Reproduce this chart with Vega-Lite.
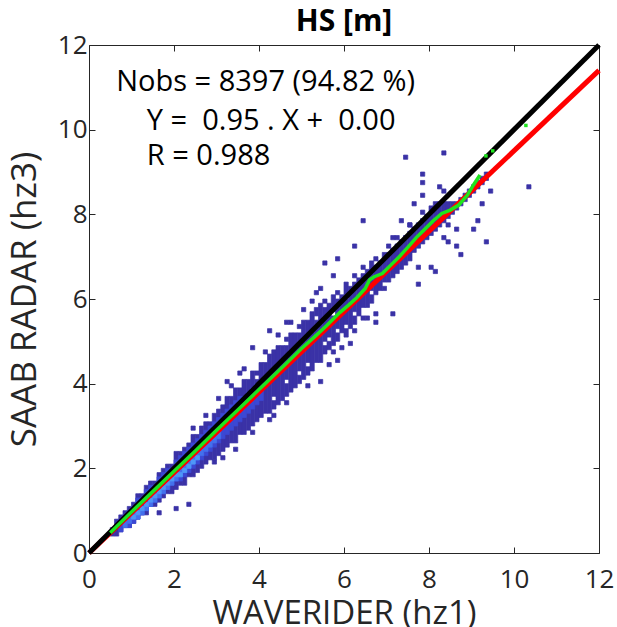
{
  "$schema": "https://vega.github.io/schema/vega-lite/v6.json",
  "width": 510,
  "height": 508,
  "autosize": "none",
  "padding": {"left": 89, "top": 45, "right": 18, "bottom": 74},
  "background": "white",
  "config": {
    "view": {"stroke": "#262626", "strokeWidth": 1},
    "font": "Open Sans",
    "axis": {
      "grid": false, "domain": false, "ticks": true, "labelFlush": false, "labelOverlap": false,
      "tickColor": "#262626", "tickSize": -6, "tickWidth": 1,
      "labelFont": "Open Sans", "labelFontSize": 26, "labelColor": "#262626",
      "titleFont": "Open Sans", "titleFontWeight": "normal", "titleColor": "#262626"
    }
  },
  "title": {"text": "HS [m]", "font": "Open Sans", "fontSize": 30, "fontWeight": "bold", "color": "#000000", "offset": -5},
  "datasets": {
    "cells": [
      {"x":0.5,"x1":0.6,"y0":0.4,"y1":0.6,"n":1},
      {"x":0.6,"x1":0.7,"y0":0.4,"y1":0.8,"n":1},
      {"x":0.7,"x1":0.8,"y0":0.5,"y1":0.9,"n":1},
      {"x":0.8,"x1":0.9,"y0":0.6,"y1":1.0,"n":1},
      {"x":0.9,"x1":1.0,"y0":0.6,"y1":1.1,"n":1},
      {"x":1.0,"x1":1.1,"y0":0.7,"y1":1.2,"n":1},
      {"x":1.1,"x1":1.2,"y0":0.8,"y1":1.4,"n":1},
      {"x":1.2,"x1":1.3,"y0":0.9,"y1":1.4,"n":1},
      {"x":1.3,"x1":1.4,"y0":0.9,"y1":1.6,"n":1},
      {"x":1.4,"x1":1.5,"y0":1.1,"y1":1.7,"n":1},
      {"x":1.5,"x1":1.6,"y0":1.1,"y1":1.7,"n":1},
      {"x":1.6,"x1":1.7,"y0":1.2,"y1":1.9,"n":1},
      {"x":1.7,"x1":1.8,"y0":1.3,"y1":2.0,"n":1},
      {"x":1.8,"x1":1.9,"y0":1.4,"y1":2.1,"n":1},
      {"x":1.9,"x1":2.0,"y0":1.4,"y1":2.1,"n":1},
      {"x":2.0,"x1":2.1,"y0":1.5,"y1":2.4,"n":1},
      {"x":2.1,"x1":2.2,"y0":1.6,"y1":2.4,"n":1},
      {"x":2.2,"x1":2.3,"y0":1.6,"y1":2.5,"n":1},
      {"x":2.3,"x1":2.4,"y0":1.8,"y1":2.6,"n":1},
      {"x":2.4,"x1":2.5,"y0":1.8,"y1":2.8,"n":1},
      {"x":2.5,"x1":2.6,"y0":1.9,"y1":2.8,"n":1},
      {"x":2.6,"x1":2.7,"y0":2.0,"y1":3.0,"n":1},
      {"x":2.7,"x1":2.8,"y0":2.1,"y1":3.1,"n":1},
      {"x":2.8,"x1":2.9,"y0":2.2,"y1":3.1,"n":1},
      {"x":2.9,"x1":3.0,"y0":2.2,"y1":3.3,"n":1},
      {"x":3.0,"x1":3.1,"y0":2.3,"y1":3.4,"n":1},
      {"x":3.1,"x1":3.2,"y0":2.4,"y1":3.5,"n":1},
      {"x":3.2,"x1":3.3,"y0":2.5,"y1":3.7,"n":1},
      {"x":3.3,"x1":3.4,"y0":2.6,"y1":3.7,"n":1},
      {"x":3.4,"x1":3.5,"y0":2.6,"y1":3.9,"n":1},
      {"x":3.5,"x1":3.6,"y0":2.8,"y1":3.9,"n":1},
      {"x":3.6,"x1":3.7,"y0":2.8,"y1":4.1,"n":1},
      {"x":3.7,"x1":3.8,"y0":2.9,"y1":4.1,"n":1},
      {"x":3.8,"x1":3.9,"y0":3.0,"y1":4.3,"n":1},
      {"x":3.9,"x1":4.0,"y0":3.1,"y1":4.1,"n":1},
      {"x":3.9,"x1":4.0,"y0":4.2,"y1":4.3,"n":1},
      {"x":4.0,"x1":4.1,"y0":3.2,"y1":4.5,"n":1},
      {"x":4.1,"x1":4.2,"y0":3.3,"y1":4.5,"n":1},
      {"x":4.2,"x1":4.3,"y0":3.3,"y1":4.7,"n":1},
      {"x":4.3,"x1":4.4,"y0":3.4,"y1":3.6,"n":1},
      {"x":4.3,"x1":4.4,"y0":3.7,"y1":4.8,"n":1},
      {"x":4.4,"x1":4.5,"y0":3.5,"y1":4.9,"n":1},
      {"x":4.5,"x1":4.6,"y0":3.6,"y1":4.9,"n":1},
      {"x":4.6,"x1":4.7,"y0":3.7,"y1":4.0,"n":1},
      {"x":4.6,"x1":4.7,"y0":4.1,"y1":4.9,"n":1},
      {"x":4.6,"x1":4.7,"y0":5.0,"y1":5.1,"n":1},
      {"x":4.7,"x1":4.8,"y0":3.8,"y1":5.2,"n":1},
      {"x":4.8,"x1":4.9,"y0":3.9,"y1":5.2,"n":1},
      {"x":4.9,"x1":5.0,"y0":4.0,"y1":4.2,"n":1},
      {"x":4.9,"x1":5.0,"y0":4.3,"y1":5.2,"n":1},
      {"x":4.9,"x1":5.0,"y0":5.3,"y1":5.4,"n":1},
      {"x":5.0,"x1":5.1,"y0":4.1,"y1":5.5,"n":1},
      {"x":5.1,"x1":5.2,"y0":4.2,"y1":4.4,"n":1},
      {"x":5.1,"x1":5.2,"y0":4.5,"y1":5.5,"n":1},
      {"x":5.2,"x1":5.3,"y0":4.3,"y1":5.7,"n":1},
      {"x":5.3,"x1":5.4,"y0":4.5,"y1":5.5,"n":1},
      {"x":5.3,"x1":5.4,"y0":5.6,"y1":5.8,"n":1},
      {"x":5.4,"x1":5.5,"y0":4.5,"y1":5.9,"n":1},
      {"x":5.5,"x1":5.6,"y0":4.7,"y1":4.9,"n":1},
      {"x":5.5,"x1":5.6,"y0":5.0,"y1":5.8,"n":1},
      {"x":5.5,"x1":5.6,"y0":5.9,"y1":6.0,"n":1},
      {"x":5.6,"x1":5.7,"y0":4.8,"y1":5.0,"n":1},
      {"x":5.6,"x1":5.7,"y0":5.1,"y1":5.9,"n":1},
      {"x":5.7,"x1":5.8,"y0":4.9,"y1":5.6,"n":1},
      {"x":5.7,"x1":5.8,"y0":5.7,"y1":6.1,"n":1},
      {"x":5.8,"x1":5.9,"y0":5.0,"y1":5.2,"n":1},
      {"x":5.8,"x1":5.9,"y0":5.3,"y1":6.0,"n":1},
      {"x":5.8,"x1":5.9,"y0":6.1,"y1":6.2,"n":1},
      {"x":5.9,"x1":6.0,"y0":5.2,"y1":6.1,"n":1},
      {"x":6.0,"x1":6.1,"y0":5.1,"y1":5.3,"n":1},
      {"x":6.0,"x1":6.1,"y0":5.4,"y1":6.0,"n":1},
      {"x":6.0,"x1":6.1,"y0":6.1,"y1":6.4,"n":1},
      {"x":6.1,"x1":6.2,"y0":5.3,"y1":6.3,"n":1},
      {"x":6.2,"x1":6.3,"y0":5.4,"y1":5.6,"n":1},
      {"x":6.2,"x1":6.3,"y0":5.7,"y1":6.4,"n":1},
      {"x":6.2,"x1":6.3,"y0":6.5,"y1":6.6,"n":1},
      {"x":6.3,"x1":6.4,"y0":5.6,"y1":6.5,"n":1},
      {"x":6.4,"x1":6.5,"y0":5.5,"y1":5.6,"n":1},
      {"x":6.4,"x1":6.5,"y0":5.8,"y1":6.6,"n":1},
      {"x":6.4,"x1":6.5,"y0":6.7,"y1":6.8,"n":1},
      {"x":6.5,"x1":6.6,"y0":5.8,"y1":6.7,"n":1},
      {"x":6.6,"x1":6.7,"y0":5.9,"y1":6.1,"n":1},
      {"x":6.6,"x1":6.7,"y0":6.2,"y1":6.9,"n":1},
      {"x":6.7,"x1":6.8,"y0":6.1,"y1":6.8,"n":1},
      {"x":6.7,"x1":6.8,"y0":6.9,"y1":7.0,"n":1},
      {"x":6.8,"x1":6.9,"y0":6.2,"y1":6.9,"n":1},
      {"x":6.9,"x1":7.0,"y0":6.2,"y1":6.3,"n":1},
      {"x":6.9,"x1":7.0,"y0":6.4,"y1":7.1,"n":1},
      {"x":7.0,"x1":7.1,"y0":6.4,"y1":7.1,"n":1},
      {"x":7.0,"x1":7.1,"y0":7.2,"y1":7.3,"n":1},
      {"x":7.1,"x1":7.2,"y0":6.5,"y1":7.2,"n":1},
      {"x":7.2,"x1":7.3,"y0":6.6,"y1":7.3,"n":1},
      {"x":7.2,"x1":7.3,"y0":7.4,"y1":7.5,"n":1},
      {"x":7.3,"x1":7.4,"y0":6.7,"y1":7.4,"n":1},
      {"x":7.4,"x1":7.5,"y0":6.8,"y1":7.5,"n":1},
      {"x":7.5,"x1":7.6,"y0":6.9,"y1":7.6,"n":1},
      {"x":7.5,"x1":7.6,"y0":7.7,"y1":7.8,"n":1},
      {"x":7.6,"x1":7.7,"y0":7.1,"y1":7.7,"n":1},
      {"x":7.7,"x1":7.8,"y0":7.2,"y1":7.8,"n":1},
      {"x":7.8,"x1":7.9,"y0":7.3,"y1":7.9,"n":1},
      {"x":7.8,"x1":7.9,"y0":8.0,"y1":8.1,"n":1},
      {"x":7.9,"x1":8.0,"y0":7.4,"y1":8.0,"n":1},
      {"x":8.0,"x1":8.1,"y0":7.5,"y1":8.2,"n":1},
      {"x":8.1,"x1":8.2,"y0":7.6,"y1":8.3,"n":1},
      {"x":8.2,"x1":8.3,"y0":7.7,"y1":8.3,"n":1},
      {"x":8.3,"x1":8.4,"y0":7.8,"y1":8.3,"n":1},
      {"x":8.4,"x1":8.5,"y0":7.9,"y1":8.3,"n":1},
      {"x":8.5,"x1":8.6,"y0":8.0,"y1":8.3,"n":1},
      {"x":8.6,"x1":8.7,"y0":8.1,"y1":8.3,"n":1},
      {"x":8.7,"x1":8.8,"y0":8.2,"y1":8.4,"n":1},
      {"x":8.8,"x1":8.9,"y0":8.3,"y1":8.5,"n":1},
      {"x":8.9,"x1":9.0,"y0":8.4,"y1":8.6,"n":1},
      {"x":9.0,"x1":9.1,"y0":8.5,"y1":8.7,"n":1},
      {"x":9.1,"x1":9.2,"y0":8.6,"y1":8.8,"n":1},
      {"x":9.2,"x1":9.3,"y0":8.7,"y1":8.9,"n":1},
      {"x":9.3,"x1":9.4,"y0":8.8,"y1":9.0,"n":1},
      {"x":1.6,"x1":1.7,"y0":0.9,"y1":1.0,"n":1},
      {"x":2.0,"x1":2.1,"y0":1.0,"y1":1.1,"n":1},
      {"x":2.3,"x1":2.4,"y0":1.1,"y1":1.2,"n":1},
      {"x":2.9,"x1":3.0,"y0":2.1,"y1":2.2,"n":1},
      {"x":2.4,"x1":2.5,"y0":2.9,"y1":3.0,"n":1},
      {"x":2.7,"x1":2.8,"y0":3.2,"y1":3.3,"n":1},
      {"x":3.0,"x1":3.1,"y0":3.6,"y1":3.7,"n":1},
      {"x":3.3,"x1":3.4,"y0":3.9,"y1":4.0,"n":1},
      {"x":3.6,"x1":3.7,"y0":4.3,"y1":4.4,"n":1},
      {"x":4.1,"x1":4.2,"y0":4.7,"y1":4.8,"n":1},
      {"x":4.4,"x1":4.5,"y0":5.1,"y1":5.2,"n":1},
      {"x":4.7,"x1":4.8,"y0":5.4,"y1":5.5,"n":1},
      {"x":5.2,"x1":5.3,"y0":5.9,"y1":6.0,"n":1},
      {"x":5.3,"x1":5.4,"y0":6.1,"y1":6.2,"n":1},
      {"x":3.1,"x1":3.2,"y0":2.2,"y1":2.3,"n":1},
      {"x":3.4,"x1":3.5,"y0":2.4,"y1":2.5,"n":1},
      {"x":3.8,"x1":3.9,"y0":2.8,"y1":2.9,"n":1},
      {"x":4.3,"x1":4.4,"y0":3.2,"y1":3.3,"n":1},
      {"x":4.6,"x1":4.7,"y0":3.5,"y1":3.6,"n":1},
      {"x":5.1,"x1":5.2,"y0":3.9,"y1":4.0,"n":1},
      {"x":5.6,"x1":5.7,"y0":4.4,"y1":4.5,"n":1},
      {"x":6.1,"x1":6.2,"y0":4.9,"y1":5.0,"n":1},
      {"x":3.2,"x1":3.3,"y0":4.0,"y1":4.1,"n":1},
      {"x":3.5,"x1":3.6,"y0":4.2,"y1":4.3,"n":1},
      {"x":3.8,"x1":3.9,"y0":4.8,"y1":4.9,"n":1},
      {"x":4.2,"x1":4.3,"y0":5.2,"y1":5.3,"n":1},
      {"x":4.2,"x1":4.3,"y0":3.1,"y1":3.2,"n":1},
      {"x":4.6,"x1":4.7,"y0":5.4,"y1":5.5,"n":1},
      {"x":5.0,"x1":5.1,"y0":5.7,"y1":5.8,"n":1},
      {"x":5.4,"x1":5.5,"y0":6.2,"y1":6.3,"n":1},
      {"x":5.4,"x1":5.5,"y0":4.0,"y1":4.1,"n":1},
      {"x":5.5,"x1":5.6,"y0":6.8,"y1":6.9,"n":1},
      {"x":5.7,"x1":5.8,"y0":6.5,"y1":6.6,"n":1},
      {"x":5.8,"x1":5.9,"y0":6.9,"y1":7.0,"n":1},
      {"x":5.8,"x1":5.9,"y0":4.5,"y1":4.6,"n":1},
      {"x":5.9,"x1":6.0,"y0":4.8,"y1":4.9,"n":1},
      {"x":5.7,"x1":5.8,"y0":4.7,"y1":4.8,"n":1},
      {"x":6.2,"x1":6.3,"y0":5.2,"y1":5.3,"n":1},
      {"x":6.5,"x1":6.6,"y0":5.5,"y1":5.6,"n":1},
      {"x":6.7,"x1":6.8,"y0":5.4,"y1":5.5,"n":1},
      {"x":6.7,"x1":6.8,"y0":5.6,"y1":5.7,"n":1},
      {"x":7.1,"x1":7.2,"y0":5.6,"y1":5.7,"n":1},
      {"x":7.7,"x1":7.8,"y0":6.3,"y1":6.4,"n":1},
      {"x":7.7,"x1":7.8,"y0":6.7,"y1":6.8,"n":1},
      {"x":8.0,"x1":8.1,"y0":6.7,"y1":6.8,"n":1},
      {"x":8.1,"x1":8.2,"y0":6.6,"y1":6.7,"n":1},
      {"x":8.4,"x1":8.5,"y0":7.3,"y1":7.4,"n":1},
      {"x":8.6,"x1":8.7,"y0":7.2,"y1":7.3,"n":1},
      {"x":8.7,"x1":8.8,"y0":7.0,"y1":7.1,"n":1},
      {"x":8.3,"x1":8.4,"y0":7.4,"y1":7.5,"n":1},
      {"x":8.4,"x1":8.5,"y0":7.7,"y1":7.8,"n":1},
      {"x":8.6,"x1":8.7,"y0":7.6,"y1":7.7,"n":1},
      {"x":9.1,"x1":9.2,"y0":7.8,"y1":7.9,"n":1},
      {"x":9.0,"x1":9.1,"y0":7.6,"y1":7.7,"n":1},
      {"x":9.3,"x1":9.4,"y0":7.3,"y1":7.4,"n":1},
      {"x":9.2,"x1":9.3,"y0":8.2,"y1":8.3,"n":1},
      {"x":9.4,"x1":9.5,"y0":8.5,"y1":8.6,"n":1},
      {"x":10.3,"x1":10.4,"y0":8.6,"y1":8.7,"n":1},
      {"x":6.2,"x1":6.3,"y0":7.2,"y1":7.3,"n":1},
      {"x":6.4,"x1":6.5,"y0":7.8,"y1":7.9,"n":1},
      {"x":7.3,"x1":7.4,"y0":7.8,"y1":7.9,"n":1},
      {"x":7.5,"x1":7.6,"y0":7.7,"y1":7.8,"n":1},
      {"x":7.1,"x1":7.2,"y0":7.4,"y1":7.5,"n":1},
      {"x":7.8,"x1":7.9,"y0":8.4,"y1":8.5,"n":1},
      {"x":7.6,"x1":7.7,"y0":8.2,"y1":8.3,"n":1},
      {"x":7.8,"x1":7.9,"y0":8.9,"y1":9.0,"n":1},
      {"x":7.8,"x1":7.9,"y0":8.7,"y1":8.8,"n":1},
      {"x":8.2,"x1":8.3,"y0":8.6,"y1":8.7,"n":1},
      {"x":8.3,"x1":8.4,"y0":8.5,"y1":8.6,"n":1},
      {"x":7.4,"x1":7.5,"y0":9.3,"y1":9.4,"n":1},
      {"x":8.3,"x1":8.4,"y0":9.4,"y1":9.5,"n":1},
      {"x":0.7,"x1":0.8,"y0":0.5,"y1":0.8,"n":2},
      {"x":0.8,"x1":0.9,"y0":0.6,"y1":0.9,"n":2},
      {"x":0.9,"x1":1.0,"y0":0.6,"y1":1.0,"n":2},
      {"x":1.0,"x1":1.1,"y0":0.7,"y1":1.1,"n":2},
      {"x":1.1,"x1":1.2,"y0":0.8,"y1":1.3,"n":2},
      {"x":1.2,"x1":1.3,"y0":0.9,"y1":1.3,"n":2},
      {"x":1.3,"x1":1.4,"y0":1.0,"y1":1.5,"n":2},
      {"x":1.4,"x1":1.5,"y0":1.1,"y1":1.6,"n":2},
      {"x":1.5,"x1":1.6,"y0":1.2,"y1":1.6,"n":2},
      {"x":1.6,"x1":1.7,"y0":1.3,"y1":1.8,"n":2},
      {"x":1.7,"x1":1.8,"y0":1.4,"y1":1.9,"n":2},
      {"x":1.8,"x1":1.9,"y0":1.5,"y1":2.0,"n":2},
      {"x":1.9,"x1":2.0,"y0":1.6,"y1":2.0,"n":2},
      {"x":2.0,"x1":2.1,"y0":1.7,"y1":2.2,"n":2},
      {"x":2.1,"x1":2.2,"y0":1.7,"y1":2.3,"n":2},
      {"x":2.2,"x1":2.3,"y0":1.8,"y1":2.4,"n":2},
      {"x":2.3,"x1":2.4,"y0":1.9,"y1":2.5,"n":2},
      {"x":2.4,"x1":2.5,"y0":2.0,"y1":2.6,"n":2},
      {"x":2.5,"x1":2.6,"y0":2.1,"y1":2.7,"n":2},
      {"x":2.6,"x1":2.7,"y0":2.2,"y1":2.8,"n":2},
      {"x":2.7,"x1":2.8,"y0":2.3,"y1":2.9,"n":2},
      {"x":2.8,"x1":2.9,"y0":2.4,"y1":3.0,"n":2},
      {"x":2.9,"x1":3.0,"y0":2.5,"y1":3.1,"n":2},
      {"x":3.0,"x1":3.1,"y0":2.6,"y1":3.2,"n":2},
      {"x":3.1,"x1":3.2,"y0":2.7,"y1":3.3,"n":2},
      {"x":3.2,"x1":3.3,"y0":2.8,"y1":3.4,"n":2},
      {"x":3.3,"x1":3.4,"y0":2.9,"y1":3.5,"n":2},
      {"x":3.4,"x1":3.5,"y0":3.0,"y1":3.6,"n":2},
      {"x":3.5,"x1":3.6,"y0":3.1,"y1":3.7,"n":2},
      {"x":3.6,"x1":3.7,"y0":3.2,"y1":3.7,"n":2},
      {"x":3.7,"x1":3.8,"y0":3.3,"y1":3.8,"n":2},
      {"x":3.8,"x1":3.9,"y0":3.4,"y1":3.9,"n":2},
      {"x":3.9,"x1":4.0,"y0":3.5,"y1":4.0,"n":2},
      {"x":4.0,"x1":4.1,"y0":3.6,"y1":4.1,"n":2},
      {"x":0.8,"x1":0.9,"y0":0.6,"y1":0.8,"n":3},
      {"x":0.9,"x1":1.0,"y0":0.7,"y1":0.9,"n":3},
      {"x":1.0,"x1":1.1,"y0":0.8,"y1":1.0,"n":3},
      {"x":1.1,"x1":1.2,"y0":0.8,"y1":1.0,"n":3},
      {"x":1.2,"x1":1.3,"y0":0.9,"y1":1.1,"n":3},
      {"x":1.3,"x1":1.4,"y0":1.0,"y1":1.2,"n":3},
      {"x":1.4,"x1":1.5,"y0":1.1,"y1":1.3,"n":3},
      {"x":1.5,"x1":1.6,"y0":1.2,"y1":1.4,"n":3},
      {"x":1.6,"x1":1.7,"y0":1.3,"y1":1.5,"n":3},
      {"x":1.7,"x1":1.8,"y0":1.4,"y1":1.6,"n":3},
      {"x":1.8,"x1":1.9,"y0":1.5,"y1":1.7,"n":3},
      {"x":1.9,"x1":2.0,"y0":1.6,"y1":1.8,"n":3},
      {"x":2.0,"x1":2.1,"y0":1.7,"y1":1.9,"n":3},
      {"x":2.1,"x1":2.2,"y0":1.8,"y1":2.0,"n":3},
      {"x":2.2,"x1":2.3,"y0":1.9,"y1":2.1,"n":3},
      {"x":2.3,"x1":2.4,"y0":2.0,"y1":2.2,"n":3},
      {"x":2.4,"x1":2.5,"y0":2.1,"y1":2.3,"n":3},
      {"x":2.5,"x1":2.6,"y0":2.2,"y1":2.4,"n":3},
      {"x":2.6,"x1":2.7,"y0":2.3,"y1":2.5,"n":3},
      {"x":2.7,"x1":2.8,"y0":2.4,"y1":2.6,"n":3},
      {"x":2.8,"x1":2.9,"y0":2.5,"y1":2.7,"n":3},
      {"x":2.9,"x1":3.0,"y0":2.6,"y1":2.8,"n":3},
      {"x":3.0,"x1":3.1,"y0":2.7,"y1":2.9,"n":3},
      {"x":1.0,"x1":1.1,"y0":0.8,"y1":0.9,"n":4},
      {"x":1.1,"x1":1.2,"y0":0.9,"y1":1.0,"n":4},
      {"x":1.2,"x1":1.3,"y0":1.0,"y1":1.1,"n":4},
      {"x":1.3,"x1":1.4,"y0":1.1,"y1":1.2,"n":4},
      {"x":1.4,"x1":1.5,"y0":1.2,"y1":1.3,"n":4},
      {"x":1.5,"x1":1.6,"y0":1.3,"y1":1.4,"n":4},
      {"x":1.6,"x1":1.7,"y0":1.4,"y1":1.5,"n":4},
      {"x":1.7,"x1":1.8,"y0":1.5,"y1":1.6,"n":4},
      {"x":1.8,"x1":1.9,"y0":1.6,"y1":1.7,"n":4},
      {"x":1.9,"x1":2.0,"y0":1.7,"y1":1.8,"n":4},
      {"x":2.0,"x1":2.1,"y0":1.8,"y1":1.9,"n":4},
      {"x":2.1,"x1":2.2,"y0":1.8,"y1":1.9,"n":4},
      {"x":2.2,"x1":2.3,"y0":1.9,"y1":2.0,"n":4},
      {"x":2.3,"x1":2.4,"y0":2.0,"y1":2.1,"n":4},
      {"x":2.4,"x1":2.5,"y0":2.1,"y1":2.2,"n":4},
      {"x":2.5,"x1":2.6,"y0":2.2,"y1":2.3,"n":4}
    ],
    "oneToOne": [{"x": 0, "y": 0}, {"x": 12, "y": 12}],
    "fit": [{"x": 0, "y": 0}, {"x": 12, "y": 11.4}],
    "qq": [
      {"x":0.5,"y":0.48},{"x":1.0,"y":0.97},{"x":1.5,"y":1.45},{"x":2.0,"y":1.93},
      {"x":2.5,"y":2.41},{"x":3.0,"y":2.9},{"x":3.5,"y":3.38},{"x":4.0,"y":3.86},
      {"x":4.5,"y":4.34},{"x":5.0,"y":4.83},{"x":5.3,"y":5.1},{"x":5.6,"y":5.38},
      {"x":5.9,"y":5.68},{"x":6.1,"y":5.85},{"x":6.3,"y":6.03},{"x":6.5,"y":6.25},
      {"x":6.6,"y":6.45},{"x":6.7,"y":6.52},{"x":6.9,"y":6.6},{"x":7.1,"y":6.8},
      {"x":7.3,"y":7.0},{"x":7.5,"y":7.22},{"x":7.7,"y":7.45},{"x":7.9,"y":7.65},
      {"x":8.1,"y":7.85},{"x":8.3,"y":8.02},{"x":8.5,"y":8.1},{"x":8.7,"y":8.22},
      {"x":8.9,"y":8.45},{"x":9.05,"y":8.7},{"x":9.2,"y":8.93}
    ],
    "qqTail": [
      {"x":9.34,"y":9.38},{"x":9.5,"y":9.5},{"x":10.28,"y":10.1}
    ],
    "notes": [
      {"x": 0.64, "y": 11.13, "label": "Nobs = 8397 (94.82 %)"},
      {"x": 1.36, "y": 10.2, "label": "Y =\u00a0 0.95 . X +\u00a0 0.00"},
      {"x": 1.36, "y": 9.38, "label": "R = 0.988"}
    ]
  },
  "layer": [
    {
      "data": {"name": "cells"},
      "mark": {"type": "rect", "strokeWidth": 0.7},
      "encoding": {
        "x": {"field": "x", "type": "quantitative",
              "scale": {"domain": [0, 12], "nice": false},
              "axis": {"orient": "bottom", "values": [0, 2, 4, 6, 8, 10, 12], "title": "WAVERIDER (hz1)", "labelPadding": 19, "titlePadding": 5, "titleFontSize": 33}},
        "x2": {"field": "x1"},
        "y": {"field": "y0", "type": "quantitative",
              "scale": {"domain": [0, 12], "nice": false},
              "axis": {"orient": "left", "values": [0, 2, 4, 6, 8, 10, 12], "title": "SAAB RADAR (hz3)", "labelPadding": 8, "titlePadding": 15, "titleFontSize": 35}},
        "y2": {"field": "y1"},
        "color": {"field": "n", "type": "ordinal",
                  "scale": {"domain": [1, 2, 3, 4], "range": ["#3a32a6", "#3b48d4", "#4470ec", "#4f97f7"]},
                  "legend": null},
        "stroke": {"field": "n", "type": "ordinal",
                  "scale": {"domain": [1, 2, 3, 4], "range": ["#3a32a6", "#3b48d4", "#4470ec", "#4f97f7"]},
                  "legend": null}
      }
    },
    {
      "data": {"name": "fit"},
      "mark": {"type": "line", "color": "#ff0000", "strokeWidth": 5},
      "encoding": {
        "x": {"field": "x", "type": "quantitative", "axis": null},
        "y": {"field": "y", "type": "quantitative", "axis": null}
      }
    },
    {
      "data": {"name": "oneToOne"},
      "mark": {"type": "line", "color": "#000000", "strokeWidth": 5},
      "encoding": {
        "x": {"field": "x", "type": "quantitative",
              "axis": {"orient": "top", "values": [0, 2, 4, 6, 8, 10, 12], "labels": false, "title": null}},
        "y": {"field": "y", "type": "quantitative",
              "axis": {"orient": "right", "values": [0, 2, 4, 6, 8, 10, 12], "labels": false, "title": null}}
      }
    },
    {
      "data": {"name": "qq"},
      "mark": {"type": "line", "color": "#1ee51e", "strokeWidth": 3.5},
      "encoding": {
        "x": {"field": "x", "type": "quantitative", "axis": null},
        "y": {"field": "y", "type": "quantitative", "axis": null}
      }
    },
    {
      "data": {"name": "qqTail"},
      "mark": {"type": "square", "color": "#1ee51e", "filled": true, "opacity": 1, "size": 12},
      "encoding": {
        "x": {"field": "x", "type": "quantitative", "axis": null},
        "y": {"field": "y", "type": "quantitative", "axis": null}
      }
    },
    {
      "data": {"name": "notes"},
      "mark": {"type": "text", "align": "left", "baseline": "middle", "font": "Open Sans", "fontSize": 29, "color": "#000000"},
      "encoding": {
        "x": {"field": "x", "type": "quantitative", "axis": null},
        "y": {"field": "y", "type": "quantitative", "axis": null},
        "text": {"field": "label"}
      }
    }
  ]
}
